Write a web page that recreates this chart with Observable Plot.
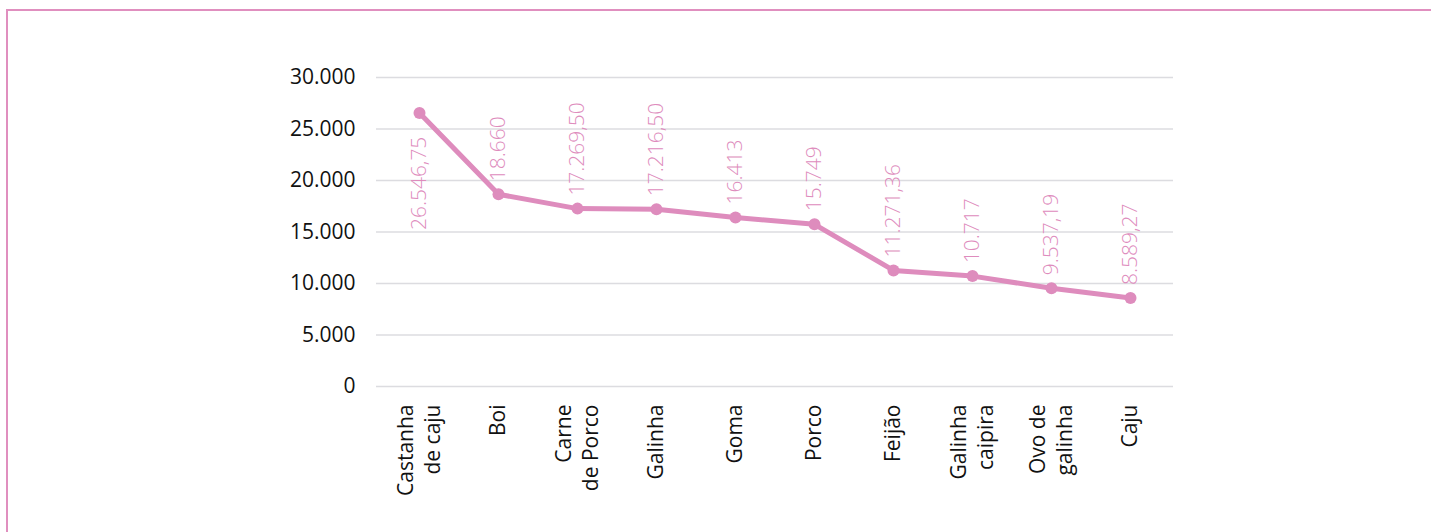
<!DOCTYPE html>
<html>
<head>
<meta charset="utf-8">
<script src="https://cdn.jsdelivr.net/npm/d3@7"></script>
<script src="https://cdn.jsdelivr.net/npm/@observablehq/plot@0.6"></script>
<style>
  html, body { margin: 0; padding: 0; background: #fff; overflow: hidden; }
  body { width: 1431px; height: 532px; position: relative; }
  #frame { position: absolute; left: 6px; top: 9px; width: 1500px; height: 700px;
           border: 2.5px solid #e08fbf; box-sizing: border-box; }
  #chart { position: absolute; left: 0; top: 0; }
</style>
</head>
<body>
<div id="frame"></div>
<div id="chart"></div>
<script>
const categories = ["Castanha\nde caju", "Boi", "Carne\nde Porco", "Galinha", "Goma", "Porco", "Feijão", "Galinha\ncaipira", "Ovo de\ngalinha", "Caju"];
const values = [26546.75, 18660, 17269.5, 17216.5, 16413, 15749, 11271.36, 10717, 9537.19, 8589.27];
const yTicks = [0, 5000, 10000, 15000, 20000, 25000, 30000];

const locale = d3.formatLocale({decimal: ",", thousands: ".", grouping: [3], currency: ["R$", ""]});
const fmtInt = locale.format(",.0f");
const fmtDec = locale.format(",.2f");
const fmtLabel = v => Number.isInteger(v) ? fmtInt(v) : fmtDec(v);

const data = categories.map((c, i) => ({cat: c, value: values[i], i}));
const pink = "#de8cbd";
const font = "'Open Sans', sans-serif";

const chart = Plot.plot({
  width: 1431,
  height: 532,
  marginLeft: 376,
  marginRight: 258,
  marginTop: 77,
  marginBottom: 146,
  style: {fontFamily: font, background: "transparent", overflow: "visible"},
  x: {type: "point", domain: categories, padding: 0.5, label: null},
  y: {domain: [0, 30000], ticks: yTicks, label: null},
  marks: [
    Plot.gridY(yTicks, {stroke: "#dcdce0", strokeOpacity: 1, strokeWidth: 1.5}),
    Plot.axisY(yTicks, {tickSize: 0, tickPadding: 21, fontSize: 21, fill: "#111", tickFormat: fmtInt, label: null}),
    Plot.axisX({tickSize: 0, tickPadding: 18, tickRotate: -90, textAnchor: "end", lineAnchor: "middle",
                fontSize: 21, lineHeight: 1.3, fill: "#111", label: null, dx: -2}),
    Plot.line(data, {x: "cat", y: "value", stroke: pink, strokeWidth: 5}),
    Plot.dot(data, {x: "cat", y: "value", fill: pink, r: 6}),
    Plot.text(data.filter(d => d.i > 0), {x: "cat", y: "value", text: d => fmtLabel(d.value), rotate: -90,
      textAnchor: "start", lineAnchor: "middle", dy: -13, fill: pink, fontSize: 21, fontWeight: 300}),
    Plot.text(data.filter(d => d.i === 0), {x: "cat", y: "value", text: d => fmtLabel(d.value), rotate: -90,
      textAnchor: "start", lineAnchor: "middle", dy: 117, fill: pink, fontSize: 21, fontWeight: 300})
  ]
});
document.getElementById("chart").appendChild(chart);
</script>
</body>
</html>
